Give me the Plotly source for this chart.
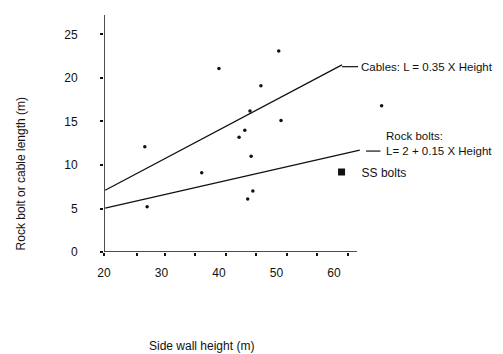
import plotly.graph_objects as go

# Data
height_m = [50.4, 40.0, 47.3, 45.4, 50.8, 44.5, 43.5, 45.6, 37.0, 45.9, 45.0, 68.3, 27.1, 27.5]
length_m = [23.1, 21.1, 19.1, 16.2, 15.1, 14.0, 13.2, 11.0, 9.1, 7.0, 6.1, 16.8, 12.1, 5.2]

cable_x = [20.2, 61.4]
cable_y = [7.1, 21.5]
rock_x = [20.2, 64.5]
rock_y = [5.05, 11.7]

x_tick_labels = [20, 30, 40, 50, 60]
x_tick_marks = [20, 25.7, 30.6, 35.8, 41.2, 46.4, 51.8, 57.0, 62.4]
y_ticks = [0, 5, 10, 15, 20, 25]

X_MIN, X_MAX = 20, 71.5
Y_MIN, Y_MAX = 0, 27.24
X_AXIS_END = 64.0

FONT = "Liberation Sans, Arial, sans-serif"
INK = "#111111"

fig = go.Figure()

fig.add_trace(go.Scatter(x=cable_x, y=cable_y, mode="lines",
                         line=dict(color=INK, width=1.3), showlegend=False, hoverinfo="skip"))
fig.add_trace(go.Scatter(x=rock_x, y=rock_y, mode="lines",
                         line=dict(color=INK, width=1.3), showlegend=False, hoverinfo="skip"))
fig.add_trace(go.Scatter(x=height_m, y=length_m, mode="markers",
                         marker=dict(color=INK, size=3.5), showlegend=False, cliponaxis=False))
fig.add_trace(go.Scatter(x=[None], y=[None], mode="markers", name="SS bolts",
                         marker=dict(color=INK, size=7, symbol="square"), showlegend=True))

# axis lines
fig.add_shape(type="line", xref="x", yref="y", x0=X_MIN, x1=X_AXIS_END, y0=0, y1=0,
              line=dict(color=INK, width=1.5))
fig.add_shape(type="line", xref="x", yref="y", x0=X_MIN, x1=X_MIN, y0=0, y1=Y_MAX,
              line=dict(color=INK, width=1.5))

# label connectors
fig.add_shape(type="line", xref="x", yref="y", x0=cable_x[1], x1=64.2, y0=21.3, y1=21.3,
              line=dict(color=INK, width=1.2))
fig.add_shape(type="line", xref="x", yref="y", x0=65.6, x1=68.1, y0=11.6, y1=11.6,
              line=dict(color=INK, width=1.2))

fig.add_annotation(x=64.3, y=21.3, xref="x", yref="y", text="Cables: L = 0.35 X Height",
                   showarrow=False, xanchor="left", yanchor="middle",
                   font=dict(family=FONT, size=11.5, color=INK))
fig.add_annotation(x=68.7, y=12.5, xref="x", yref="y",
                   text="Rock bolts:<br>L= 2 + 0.15 X Height",
                   showarrow=False, xanchor="left", yanchor="middle", align="left",
                   font=dict(family=FONT, size=11.5, color=INK))

fig.add_annotation(x=-0.28, y=0.328, xref="paper", yref="paper",
                   text="Rock bolt or cable length (m)", textangle=-90, showarrow=False,
                   xanchor="center", yanchor="middle",
                   font=dict(family=FONT, size=12, color=INK))
fig.add_annotation(x=0.331, y=-0.397, xref="paper", yref="paper",
                   text="Side wall height (m)", showarrow=False,
                   xanchor="center", yanchor="middle",
                   font=dict(family=FONT, size=12, color=INK))

fig.update_xaxes(range=[X_MIN, X_MAX], showline=False, showgrid=False, zeroline=False,
                 tickmode="array", tickvals=x_tick_labels, ticks="",
                 ticklabelstandoff=12,
                 tickfont=dict(family=FONT, size=12, color=INK),
                 minor=dict(tickmode="array", tickvals=x_tick_marks, ticks="outside",
                            ticklen=3, tickcolor=INK, tickwidth=1.5))
fig.update_yaxes(range=[Y_MIN, Y_MAX], showline=False, showgrid=False, zeroline=False,
                 tickmode="array", tickvals=y_ticks, ticks="outside", ticklen=3,
                 tickcolor=INK, tickwidth=1.5, ticklabelstandoff=20,
                 tickfont=dict(family=FONT, size=12, color=INK))

# page body has an 8px default margin, so the figure is shrunk/shifted by 8px
fig.update_layout(
    width=495, height=346,
    margin=dict(l=96, r=103, t=7, b=102),
    paper_bgcolor="white", plot_bgcolor="white",
    legend=dict(x=0.735, y=0.3376, xanchor="left", yanchor="middle",
                bgcolor="rgba(0,0,0,0)", font=dict(family=FONT, size=12, color=INK),
                itemwidth=30),
)

fig.write_html("out.html")
